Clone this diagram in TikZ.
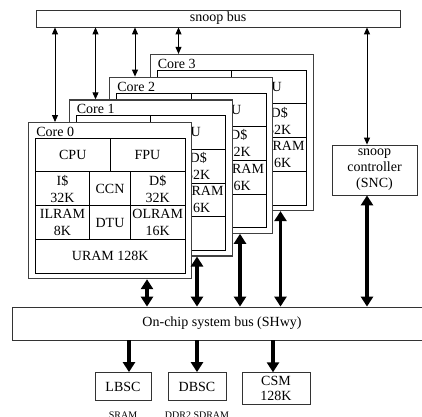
\documentclass[tikz,border=0pt]{standalone}
\usepackage{fontspec}
\setmainfont{Liberation Serif}
\usetikzlibrary{arrows.meta,positioning}

\tikzset{
    cell/.style={draw, line width=0.7pt, inner sep=0pt, align=center,
        font=\fontsize{14}{17}\selectfont},
    corebox/.style={draw=black!75, line width=1.2pt, fill=white, inner sep=0pt},
    busbox/.style={draw=black!80, line width=0.8pt, fill=white, inner sep=0pt,
        align=center, font=\fontsize{14}{16}\selectfont},
    memnote/.style={inner sep=0pt, font=\fontsize{10}{10}\selectfont},
    thinarrow/.style={{Triangle[length=7pt,width=6pt]}-{Triangle[length=7pt,width=6pt]},
        line width=0.9pt},
    thickarrow/.style={{Triangle[length=10pt,width=12pt]}-{Triangle[length=10pt,width=12pt]},
        line width=3.4pt},
    downarrow/.style={-{Triangle[length=10pt,width=12pt]}, line width=3.4pt}
}

\begin{document}
\begin{tikzpicture}[x=1pt,y=-1pt]
    \useasboundingbox (0,0) rectangle (422,416);
    \node[busbox, minimum width=364, minimum height=17] (snoop) at (218,18.5) {snoop bus};
    \node[busbox, minimum width=420, minimum height=33] (shwy) at (222,323.5) {On-chip system bus (SHwy)};
    \node[busbox, minimum width=85, minimum height=50] (snc) at (374.5,170) {snoop\\controller\\(SNC)};
    \foreach \i in {3,2,1,0}{
    \begin{scope}[shift={(40.5*\i,-22.7*\i)}]
        \node[corebox, minimum width=163, minimum height=156, anchor=north west] (core\i) at (28,122) {};
        \node[cell, draw=none, anchor=base west] (name\i) at (36,136.5) {Core \i};
        \node[cell, minimum width=74.5, minimum height=33.4] (cpu\i) at (72.75,155) {CPU};
        \node[cell, minimum width=75, minimum height=33.4] (fpu\i) at (147.5,155) {FPU};
        \node[cell, minimum width=54, minimum height=34] (icache\i) at (62.5,188.7) {I\$\\32K};
        \node[cell, minimum width=41, minimum height=34] (ccn\i) at (110,188.7) {CCN};
        \node[cell, minimum width=54.5, minimum height=34] (dcache\i) at (157.75,188.7) {D\$\\32K};
        \node[cell, minimum width=54, minimum height=33.6] (ilram\i) at (62.5,222.5) {ILRAM\\8K};
        \node[cell, minimum width=41, minimum height=33.6] (dtu\i) at (110,222.5) {DTU};
        \node[cell, minimum width=54.5, minimum height=33.6] (olram\i) at (157.75,222.5) {OLRAM\\16K};
        \node[cell, minimum width=149.5, minimum height=33.7] (uram\i) at (110.25,256.2) {URAM 128K};
    \end{scope}
    }
    \node[busbox, minimum width=56, minimum height=28] (lbsc) at (123,386.5) {LBSC};
    \node[busbox, minimum width=58, minimum height=28] (dbsc) at (197,386.5) {DBSC};
    \node[busbox, minimum width=68, minimum height=32, font=\fontsize{14}{15}\selectfont] (csm) at (276,388.7) {CSM\\128K};
    \node[memnote, anchor=north] (sram) at (123,411.5) {SRAM};
    \node[memnote, anchor=north] (ddr) at (197,411.5) {DDR2 SDRAM};
    \coordinate (up0) at ([xshift=27]core0.north west);
    \coordinate (up1) at ([xshift=27]core1.north west);
    \coordinate (up2) at ([xshift=26]core2.north west);
    \coordinate (up3) at ([xshift=29]core3.north west);
    \coordinate (dn0) at ([xshift=119]core0.south west);
    \coordinate (dn1) at ([xshift=128.5]core1.south west);
    \coordinate (dn2) at ([xshift=131]core2.south west);
    \coordinate (dn3) at ([xshift=131]core3.south west);
    \foreach \i in {0,1,2,3}{
        \draw[thinarrow] (snoop.south -| up\i) -- (up\i);
        \draw[thickarrow] (dn\i) -- (shwy.north -| dn\i);
    }
    \draw[thinarrow] (snoop.south -| 367,0) -- (snc.north -| 367,0);
    \draw[thickarrow] (snc.south -| 367,0) -- (shwy.north -| 367,0);
    \draw[downarrow] (shwy.south -| 129,0) -- (lbsc.north -| 129,0);
    \draw[downarrow] (shwy.south -| dbsc.north) -- (dbsc.north);
    \draw[downarrow] (shwy.south -| 273,0) -- (csm.north -| 273,0);
\end{tikzpicture}
\end{document}
